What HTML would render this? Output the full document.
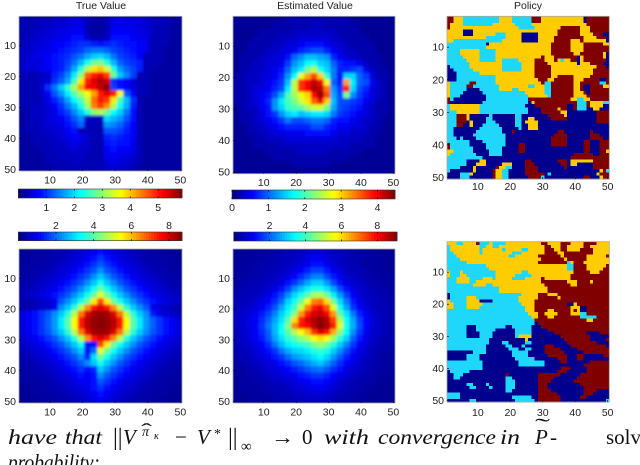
<!DOCTYPE html>
<html lang="en">
<head>
<meta charset="utf-8">
<title>Value and policy heatmaps</title>
<style>
html,body{margin:0;padding:0;background:#fff;}
body{width:640px;height:465px;overflow:hidden;}
svg{display:block;filter:blur(0.3px);}
.tick{font:10.5px "Liberation Sans",sans-serif;fill:#222;}
.ttl{font:10.5px "Liberation Sans",sans-serif;fill:#222;text-anchor:middle;}
.m{font-family:"Liberation Serif",serif;font-size:21px;fill:#111;}
.i{font-style:italic;}
</style>
</head>
<body>
<svg id="fig" xmlns="http://www.w3.org/2000/svg" width="640" height="465" viewBox="0 0 640 465">
  <defs>
    <filter id="soft" filterUnits="userSpaceOnUse" x="0" y="0" width="640" height="465"><feGaussianBlur stdDeviation="1.3"/></filter>
  </defs>
  <rect width="640" height="465" fill="#fff"/>
  <text class="ttl" x="101" y="9">True Value</text>
  <text class="ttl" x="315" y="9">Estimated Value</text>
  <text class="ttl" x="528" y="9">Policy</text>
  <g id="panels"></g>
  <g>
    <text class="m i" x="8" y="444" textLength="49" lengthAdjust="spacingAndGlyphs">have</text>
    <text class="m i" x="65" y="444" textLength="37" lengthAdjust="spacingAndGlyphs">that</text>
    <text class="m" x="113" y="445" style="font-size:24px">||</text>
    <text class="m i" x="123" y="444">V</text>
    <text class="m i" x="142" y="436" style="font-size:14px">π</text>
    <text class="m" x="141" y="436" style="font-size:18px" textLength="11" lengthAdjust="spacingAndGlyphs">ˆ</text>
    <text class="m i" x="154" y="439" style="font-size:10px">κ</text>
    <text class="m" x="175" y="444">−</text>
    <text class="m i" x="197" y="444">V</text>
    <text class="m" x="214" y="438" style="font-size:14px">*</text>
    <text class="m" x="228" y="445" style="font-size:24px">||</text>
    <text class="m" x="241" y="451" style="font-size:15px">∞</text>
    <text class="m" x="271" y="444" textLength="23" lengthAdjust="spacingAndGlyphs">→</text>
    <text class="m" x="302" y="444">0</text>
    <text class="m i" x="324" y="444" textLength="45" lengthAdjust="spacingAndGlyphs">with</text>
    <text class="m i" x="378" y="444" textLength="118" lengthAdjust="spacingAndGlyphs">convergence</text>
    <text class="m i" x="500" y="444" textLength="20" lengthAdjust="spacingAndGlyphs">in</text>
    <text class="m i" x="535" y="444">P</text>
    <text class="m" x="535" y="433" style="font-size:21px" textLength="15" lengthAdjust="spacingAndGlyphs">˜</text>
    <text class="m" x="550" y="444">-</text>
    <text class="m" x="606" y="444">solve</text>
    <text class="m i" x="8" y="469" textLength="92" lengthAdjust="spacingAndGlyphs">probability:</text>
  </g>
</svg>
<script>
const trueValueTop = [
[.3,.3,.3,.3,.3,.4,.4,.4,.5,.5,.3,.2,.2,.3,.5,.6,.5,.5,.5,.4,.3,.3,.3,.2,.2],
[.3,.3,.3,.4,.4,.5,.5,.5,.6,.6,.3,.2,.2,.3,.6,.6,.6,.6,.5,.5,.4,.3,.3,.2,.2],
[.3,.3,.4,.4,.5,.5,.6,.6,.7,.7,.3,.2,.2,.3,.7,.7,.7,.6,.6,.5,.4,.3,.3,.2,.2],
[.3,.4,.4,.5,.5,.6,.6,.7,.8,.8,.5,.3,.3,.4,.8,.8,.8,.7,.6,.6,.3,.3,.3,.2,.2],
[.3,.4,.5,.5,.6,.7,.7,.8,.9,1,1,.9,.8,.9,1,.9,.8,.8,.7,.6,.3,.3,.3,.2,.2],
[.4,.4,.5,.6,.6,.7,.8,.9,1,1.1,1.3,1.4,1.4,1.3,1.1,1,.9,.8,.7,.6,.3,.3,.2,.2,.2],
[.4,.5,.6,.6,.7,.8,.9,1,1.2,1.4,1.7,1.9,2,1.8,1.4,1.1,1,.9,.7,.3,.3,.3,.2,.2,.2],
[.4,.5,.5,.6,.7,.8,.9,1.1,1.4,1.8,2.3,2.8,2.9,2.4,1.8,1.3,1.1,1,.9,.3,.3,.3,.2,.2,.2],
[.4,.5,.5,.6,.7,.8,.9,1.2,1.7,2.4,3.2,3.8,4,3.4,2.4,1.6,1.3,1.1,.9,.3,.3,.2,.2,.2,.2],
[.3,.3,.3,.4,.4,.9,1.1,1.5,2.1,3,4.6,5,5.2,4.8,2.8,1.9,1.5,1.1,.3,.3,.2,.2,.2,.2,.2],
[.3,.3,.3,.4,.5,1,1.3,1.7,2.6,3.8,5,5.3,5.6,5.4,1,.8,.7,.5,.3,.3,.2,.2,.2,.2,.2],
[.3,.3,.3,.5,1,1.4,1.9,2.5,3.2,4.2,5.1,5.2,5.5,5.8,1.1,.8,.7,.5,.3,.3,.2,.2,.2,.2,.2],
[.3,.3,.3,.4,.7,1.2,1.6,2.1,2.7,3.2,3.6,4.2,5,5.3,5,3.6,1.2,.7,.3,.3,.2,.2,.2,.2,.2],
[.3,.3,.3,.4,.6,.9,1.2,1.7,2.2,2.7,3.3,4.5,5,4.8,3.8,2.6,1.8,1,.3,.2,.2,.2,.2,.2,.2],
[.3,.3,.4,.4,.5,.7,1,1.4,1.8,2.3,3.1,4.4,4.8,4.3,3.2,2.3,1.7,.9,.3,.2,.2,.2,.2,.2,.2],
[.2,.3,.4,.4,.5,.6,.9,1.1,1.5,1.9,2.4,3,3.2,2.8,2.2,1.9,1.4,.8,.3,.2,.2,.2,.2,.2,.2],
[.2,.3,.4,.4,.5,.6,.7,.9,1.2,1.5,.4,.4,.4,2,1.8,1.6,1.2,.8,.3,.2,.2,.2,.2,.2,.2],
[.2,.3,.3,.4,.5,.5,.6,.8,1,1.3,.4,.3,.3,1.6,1.5,1.3,1,.7,.3,.2,.2,.2,.2,.2,.2],
[.2,.3,.3,.4,.4,.5,.5,.7,.8,.3,.3,.3,.3,1.2,1.2,1.1,.9,.7,.3,.2,.2,.2,.2,.2,.2],
[.2,.2,.3,.3,.4,.4,.5,.6,.7,.6,.5,.3,.3,.9,1,.9,.8,.7,.3,.2,.2,.2,.2,.2,.2],
[.2,.2,.3,.3,.3,.4,.4,.5,.6,.5,.4,.3,.3,.8,.9,.8,.8,.6,.3,.2,.2,.2,.2,.2,.2],
[.2,.2,.2,.3,.3,.4,.4,.4,.5,.4,.4,.3,.3,.7,.8,.7,.7,.6,.3,.2,.2,.2,.2,.2,.2],
[.2,.2,.2,.2,.3,.3,.4,.4,.4,.4,.3,.3,.3,.6,.7,.6,.6,.5,.3,.2,.2,.2,.2,.2,.2],
[.2,.2,.2,.2,.3,.3,.3,.3,.4,.4,.3,.3,.3,.5,.6,.5,.5,.4,.3,.2,.2,.2,.2,.2,.2],
[.2,.2,.2,.2,.2,.3,.3,.3,.3,.3,.3,.3,.3,.4,.5,.4,.4,.3,.2,.2,.2,.2,.2,.2,.2]
];
const estimatedValueTop = [
[.1,.1,.1,.1,.1,.1,.1,.1,.2,.2,.2,.2,.2,.2,.2,.2,.2,.2,.1,.1,.1,.1,.1,.1,.1],
[.1,.1,.1,.1,.1,.1,.2,.2,.2,.2,.2,.2,.3,.3,.2,.2,.2,.2,.2,.1,.1,.1,.1,.1,.1],
[.1,.1,.1,.1,.2,.2,.2,.2,.2,.3,.3,.3,.3,.3,.3,.3,.2,.2,.2,.2,.1,.1,.1,.1,.1],
[.1,.1,.1,.2,.2,.2,.2,.3,.3,.3,.4,.4,.4,.4,.4,.3,.3,.2,.2,.2,.2,.1,.1,.1,.1],
[.1,.1,.2,.2,.2,.2,.3,.3,.4,.4,.5,.6,.6,.6,.5,.4,.3,.3,.2,.2,.2,.2,.1,.1,.1],
[.1,.1,.2,.2,.2,.3,.3,.4,.4,.5,.7,.8,.9,.9,.7,.5,.4,.3,.3,.2,.2,.2,.1,.1,.1],
[.1,.2,.2,.2,.3,.3,.4,.4,.6,1,1.2,1.4,1.4,1.3,1.2,.7,.5,.4,.3,.3,.2,.2,.2,.1,.1],
[.1,.2,.2,.3,.3,.4,.4,.5,.8,1.2,1.4,1.7,1.8,1.5,1.4,1,.7,.6,.6,.5,.3,.2,.2,.1,.1],
[.1,.2,.2,.3,.3,.4,.5,.6,1,1.4,1.6,2.2,2.5,1.8,1.5,1.1,.7,.7,.8,.9,.5,.3,.2,.2,.1],
[.2,.2,.3,.3,.4,.4,.5,.7,1.2,1.7,2.7,3.2,3.6,3,1.9,1.1,.6,1.5,1.5,1,.8,.4,.2,.2,.1],
[.2,.2,.3,.3,.4,.5,.6,.8,1.4,2.5,3.7,3.9,4.2,4,2.7,1,.7,3.2,1.6,1,.9,.5,.3,.2,.1],
[.2,.2,.3,.4,.4,.5,.7,.9,1.6,2.5,3.7,3.9,4.3,4.2,3.4,1.2,.8,3.8,1.5,.9,.7,.4,.3,.2,.1],
[.2,.2,.3,.4,.5,.6,.9,1.3,2,2.4,2.7,3,3.9,4.4,3.6,1.3,.9,2.2,1.2,.8,.6,.4,.3,.2,.1],
[.2,.2,.3,.4,.5,.7,1.2,1.6,2,2.2,2.6,2.9,3.5,3.9,3,1.4,.9,.9,.8,.7,.5,.4,.2,.2,.1],
[.1,.2,.3,.3,.5,.6,1.2,1.5,1.9,2,2.1,2.4,2.6,2.6,2.2,1.3,.9,.8,.7,.6,.4,.3,.2,.2,.1],
[.1,.2,.2,.3,.4,.6,.8,1.2,1.5,1.6,1.4,1.5,1.6,1.6,1.5,1.1,.8,.7,.6,.5,.4,.3,.2,.2,.1],
[.1,.2,.2,.3,.4,.5,.6,.8,1.1,.9,.9,1,1.1,1.1,1,.7,.6,.6,.5,.4,.3,.3,.2,.1,.1],
[.1,.1,.2,.3,.3,.4,.5,.6,.7,.7,.7,.7,.9,.9,.7,.6,.5,.5,.4,.4,.3,.2,.2,.1,.1],
[.1,.1,.2,.2,.3,.3,.4,.4,.5,.5,.5,.6,.6,.6,.6,.5,.4,.4,.3,.3,.3,.2,.2,.1,.1],
[.1,.1,.1,.2,.2,.3,.3,.3,.4,.4,.4,.4,.4,.4,.4,.4,.3,.3,.3,.3,.2,.2,.1,.1,.1],
[.1,.1,.1,.2,.2,.2,.2,.3,.3,.3,.3,.3,.3,.3,.3,.3,.3,.3,.2,.2,.2,.2,.1,.1,.1],
[.1,.1,.1,.1,.1,.2,.2,.2,.2,.2,.3,.3,.3,.3,.3,.2,.2,.2,.2,.2,.1,.1,.1,.1,.1],
[.1,.1,.1,.1,.1,.1,.2,.2,.2,.2,.2,.2,.2,.2,.2,.2,.2,.2,.1,.1,.1,.1,.1,.1,.1],
[.1,.1,.1,.1,.1,.1,.1,.1,.1,.2,.2,.2,.2,.2,.2,.1,.1,.1,.1,.1,.1,.1,.1,.1,.1],
[.1,.1,.1,.1,.1,.1,.1,.1,.1,.1,.1,.1,.1,.1,.1,.1,.1,.1,.1,.1,.1,.1,.1,.1,.1]
];
const trueValueBottom = [
[.2,.2,.3,.3,.3,.4,.4,.5,.6,.7,.8,1,1.2,1,.8,.7,.6,.5,.4,.4,.3,.3,.3,.2,.2],
[.2,.3,.3,.3,.4,.4,.5,.6,.7,.8,1,1.2,1.5,1.2,1,.8,.7,.6,.5,.4,.4,.3,.3,.3,.2],
[.3,.3,.3,.4,.4,.5,.6,.7,.8,1,1.2,1.5,1.8,1.5,1.2,1,.8,.7,.6,.5,.4,.4,.3,.3,.3],
[.3,.3,.4,.4,.5,.6,.7,.8,1,1.2,1.5,1.8,2.3,1.8,1.5,1.2,1,.8,.7,.6,.5,.4,.4,.3,.3],
[.3,.4,.4,.5,.6,.7,.8,1,1.2,1.5,1.8,2.3,2.8,2.3,1.8,1.5,1.2,1,.8,.7,.6,.5,.4,.4,.3],
[.4,.4,.5,.6,.7,.8,1,1.2,1.5,1.8,2.3,2.8,3.4,2.8,2.3,1.8,1.5,1.2,1,.8,.7,.6,.5,.4,.4],
[.4,.5,.6,.7,.8,1,1.2,1.5,1.8,2.3,2.8,3.4,4.2,3.4,2.8,2.3,1.8,1.5,1.2,1,.8,.7,.6,.5,.4],
[.5,.6,.7,.8,1,1.2,1.5,1.8,2.3,2.8,3.4,4.2,5.2,4.2,3.4,2.8,2.3,1.8,1.5,1.2,1,.8,.7,.6,.5],
[.4,.4,.5,.6,.7,.9,1.8,2.3,2.8,3.4,4.2,5.6,7,5.6,4.2,3.4,2.8,2.3,1.8,1.5,1.2,1,.8,.7,.6],
[.4,.4,.5,.6,.7,.9,2.3,2.8,3.6,4.8,6.4,7.5,7.9,7.5,6.4,4.8,3.6,2.8,2.3,1.8,.9,.7,.6,.5,.4],
[.8,1,1.2,1.5,1.8,2.3,2.8,3.6,4.8,6.6,7.9,8.4,8.5,8.4,7.9,6.6,4.8,3.6,2.8,2.3,1.3,.9,.7,.6,.5],
[.8,1,1.2,1.5,1.9,2.4,3.1,4,5.4,7.4,8.2,8.5,8.6,8.5,8.2,7.4,5.4,4,3.1,2.4,1.9,1.5,1.2,1,.8],
[.8,1,1.2,1.5,1.9,2.4,3.1,4,5.4,7.4,8.2,8.5,8.6,8.5,8.2,7.4,5.4,4,3.1,2.4,1.9,1.5,1.2,1,.8],
[.8,1,1.2,1.5,1.8,2.3,2.8,3.6,4.8,6.6,7.9,8.4,8.5,8.4,7.9,6.6,4.8,3.6,2.8,2.3,1.8,1.5,1.2,1,.8],
[.7,.8,1,1.2,1.5,1.8,2.3,2.8,3.6,4.8,6.4,7.5,7.9,7.5,6.4,4.8,3.6,2.8,2.3,1.8,1.5,1.2,1,.8,.7],
[.6,.7,.8,1,1.2,1.5,1.8,2.3,2.8,3.4,1.2,1.2,7,5.6,4.2,3.4,2.8,2.3,1.8,1.5,1.2,1,.8,.7,.6],
[.5,.6,.7,.8,1,1.2,1.5,1.8,2.3,2.8,1.2,2,5.2,4.2,3.4,2.8,2.3,1.8,1.5,1.2,1,.8,.7,.6,.5],
[.4,.5,.6,.7,.8,1,1.2,1.5,1.8,2.3,1.4,3,4.2,3.4,2.8,2.3,1.8,1.5,1.2,1,.8,.7,.6,.5,.4],
[.4,.4,.5,.6,.7,.8,1,1.2,1.5,1.8,2.3,2.8,3.4,2.8,2.3,1.8,1.5,1.2,1,.8,.7,.6,.5,.4,.4],
[.3,.4,.4,.5,.6,.7,.8,1,1.2,1.5,1.2,1.4,2.8,2.3,1.8,1.5,1.2,1,.8,.7,.6,.5,.4,.4,.3],
[.3,.3,.4,.4,.5,.6,.7,.8,1,1.2,1,1.2,2.3,1.8,1.5,1.2,1,.8,.7,.6,.5,.4,.4,.3,.3],
[.3,.3,.3,.4,.4,.5,.6,.7,.8,1,1,1.2,1.8,1.5,1.2,1,.8,.7,.6,.5,.4,.4,.3,.3,.3],
[.2,.3,.3,.3,.4,.4,.5,.6,.7,.8,.9,1.2,1.5,1.2,1,.8,.7,.6,.5,.4,.4,.3,.3,.3,.2],
[.2,.2,.3,.3,.3,.4,.4,.5,.6,.7,.8,1,1.2,1,.8,.7,.6,.5,.4,.4,.3,.3,.3,.2,.2],
[.2,.2,.2,.3,.3,.3,.4,.4,.5,.6,.7,.8,1,.8,.7,.6,.5,.4,.4,.3,.3,.3,.2,.2,.2]
];
const estimatedValueBottom = [
[.2,.2,.2,.3,.3,.3,.4,.4,.5,.5,.6,.7,.8,.8,.7,.6,.5,.5,.4,.3,.3,.3,.2,.2,.2],
[.2,.2,.3,.3,.3,.4,.4,.5,.5,.6,.7,.8,1,1,.8,.7,.6,.5,.4,.4,.3,.3,.3,.2,.2],
[.2,.3,.3,.3,.4,.4,.5,.5,.6,.7,.8,1,1.2,1.2,1,.8,.6,.5,.5,.4,.3,.3,.3,.2,.2],
[.3,.3,.3,.4,.4,.5,.5,.6,.7,.9,1.1,1.4,1.7,1.7,1.3,1,.8,.6,.5,.5,.4,.3,.3,.3,.2],
[.3,.3,.4,.4,.5,.5,.6,.7,.9,1.1,1.5,1.9,2.3,2.3,1.8,1.3,1,.7,.6,.5,.4,.4,.3,.3,.3],
[.3,.4,.4,.5,.5,.6,.7,.9,1.2,1.6,2.1,2.6,3,3,2.5,1.8,1.2,.9,.7,.6,.5,.4,.4,.3,.3],
[.4,.4,.5,.5,.6,.7,.9,1.2,1.7,2.4,2.9,3.3,3.7,3.7,3.2,2.6,1.8,1.2,.9,.7,.6,.5,.4,.4,.3],
[.4,.5,.5,.6,.7,.9,1.2,1.7,2.4,3.1,3.6,4.2,4.9,5,4.4,3.3,2.5,1.7,1.1,.8,.6,.5,.5,.4,.3],
[.5,.5,.6,.7,.9,1.1,1.5,2.1,3,3.5,4.4,5.5,6.8,7,6,4.4,3.1,2.2,1.3,.9,.7,.6,.5,.4,.4],
[.5,.6,.7,.8,1,1.4,1.9,2.6,3.3,4,5.2,6.8,7.8,8.1,7.2,5.4,3.6,2.6,1.6,1.1,.8,.6,.5,.5,.4],
[.6,.7,.8,1,1.3,1.7,2.3,3,3.6,4.6,6.6,7.8,8.3,8.5,8,6.6,4.2,3.2,2.2,1.4,1,.7,.6,.5,.4],
[.6,.7,.9,1.1,1.5,2,2.6,3.2,4.2,6,7.7,8.3,8.7,9,8.6,7.4,5,3.5,2.6,1.7,1.1,.8,.6,.5,.4],
[.6,.7,.9,1.1,1.6,2.2,2.8,3.4,4.6,6.8,7.8,8,8.6,9.1,8.7,7.8,5.4,3.6,2.7,1.8,1.1,.8,.6,.5,.4],
[.5,.7,.8,1.1,1.5,2,2.8,3.5,4.2,5,5.7,6.3,7.6,8.3,7.9,6.4,4.6,3.4,2.4,1.6,1,.7,.6,.5,.4],
[.5,.6,.8,1,1.3,1.9,2.6,3.2,3.8,4.2,4.7,5,5.6,6,5.6,4.8,3.8,3,2,1.3,.9,.7,.5,.4,.4],
[.5,.6,.7,.9,1.1,1.5,2.2,2.8,3.3,3.5,3.8,4,4.5,4.8,4.4,3.7,3,2.3,1.6,1.1,.8,.6,.5,.4,.4],
[.4,.5,.6,.8,1,1.2,1.6,2.2,2.7,3,3.1,3.3,3.7,3.9,3.6,3,2.4,1.8,1.2,.9,.7,.5,.4,.4,.3],
[.4,.5,.5,.7,.8,1,1.3,1.6,2.1,2.5,2.7,2.9,3.2,3.4,3.1,2.5,1.9,1.4,1,.8,.6,.5,.4,.3,.3],
[.3,.4,.5,.6,.7,.8,1,1.2,1.5,1.9,2.1,2.4,2.7,2.9,2.5,2,1.5,1.1,.9,.7,.5,.4,.4,.3,.3],
[.3,.3,.4,.5,.6,.7,.8,1,1.1,1.4,1.6,1.9,2.1,2.2,1.9,1.5,1.2,.9,.7,.6,.5,.4,.3,.3,.3],
[.3,.3,.4,.4,.5,.6,.7,.8,.9,1,1.2,1.4,1.6,1.6,1.4,1.1,.9,.8,.6,.5,.4,.4,.3,.3,.2],
[.2,.3,.3,.4,.4,.5,.6,.6,.7,.8,1,1.1,1.2,1.2,1.1,.9,.7,.6,.5,.4,.4,.3,.3,.2,.2],
[.2,.3,.3,.3,.4,.4,.5,.5,.6,.7,.8,.9,1,1,.9,.7,.6,.5,.4,.4,.3,.3,.2,.2,.2],
[.2,.2,.3,.3,.3,.4,.4,.5,.5,.6,.6,.7,.8,.8,.7,.6,.5,.4,.4,.3,.3,.2,.2,.2,.2],
[.2,.2,.2,.3,.3,.3,.4,.4,.4,.5,.5,.6,.6,.6,.6,.5,.4,.4,.3,.3,.3,.2,.2,.2,.2]
];
const policyTop = [
"3322211111 1111112222 1111113332 2222222222 2203333333",
"3322211111 1111112222 1111113332 2222222222 2203333333",
"3222211111 1111222222 2111112222 2222222222 2223333333",
"3222222222 2222222222 2211111222 2222233333 3222333333",
"2222200022 2222222222 2222222222 2222333333 3222333333",
"2222200022 2222211122 2220000022 2222333333 3222233300",
"2222222222 2211111122 2220000022 2223333333 3322223330",
"2211111111 1111111222 2220000022 2223333322 2322222220",
"1111111111 1102222222 2222222222 2233333322 2233333322",
"1111111111 1122222222 2222222222 2233333322 2233333333",
"1111222222 1111122222 2222222222 2233333322 2233333333",
"1111222222 1111122222 2222222222 2233333332 2333333320",
"1111122222 1111122222 2222222223 2223333333 0233333320",
"1111112222 1111122111 1122222333 2223212233 0233333330",
"1111111222 2222222111 1112222333 3222222222 0222333300",
"0111111222 2222222111 1112222333 3322222222 2222223330",
"0011111122 2222222111 1112222333 3322222222 2222233333",
"0001111111 2222222222 2222222333 3322222222 2222233333",
"0001111111 1111122222 2222222333 3322333332 2222333333",
"0001111111 1111122222 2222222233 3223333332 2233333003",
"2111111331 1111122222 2222222223 1133333332 2333333113",
"2111113311 1111112222 2222211222 1133333332 2300333322",
"2111110000 1111112222 1122222222 1133333332 2300333333",
"2111100000 0111111111 1111222222 1133333332 2230333333",
"2111000000 0011111111 1111122222 2133333332 2223333333",
"3100000000 0011111111 1111133333 3333333322 1122333333",
"3000000000 0111111111 1111102333 3333333333 1113222211",
"1222222222 1111111111 1111000333 3333333003 1113222200",
"1222222222 1111111111 1111100003 3333233003 1110022000",
"1112222222 1111111111 1111100003 3333322000 0000003333",
"1113332000 0001000000 0110000000 0333332000 0000003333",
"1113332000 0011000000 0110022000 0033333000 0000003333",
"1113330200 0011100000 0110222200 0000000000 0000003333",
"1113300200 0111110000 0110022200 0000000000 0000000000",
"1100000000 1111111000 0010022200 0000000000 0000000000",
"1100000001 1111111000 3000000000 0000330000 0000300000",
"1100000011 1111111100 0000000000 0003333000 0000333000",
"1110100001 1111111100 0000000000 0033333000 0000333300",
"1111111000 0111111100 0000000000 0033333000 0033000333",
"3111111000 0011111100 0033000000 0033333000 0033000333",
"3111111100 0011111000 0033000000 0000000000 0033000333",
"2211111100 0001111000 0033000000 0000000000 0033000332",
"2111111110 0001111000 0000000000 0000000003 3333300333",
"1111111111 1000000000 0000000000 0000000033 3333333333",
"1111110000 2200000000 0000330000 0000333022 2222233333",
"1111110002 2200000222 0000333000 0000033022 0000033333",
"1111000020 0000032211 0000333300 0000003000 0000033333",
"1000000020 0000322110 0000333300 0000000000 0000000231",
"0000111200 0000322110 0000333333 0100000000 0000002333",
"0000111000 0000322110 0000033331 0000000000 0033000233"
];
const policyBottom = [
"2221122223 1112111122 2222222223 3222233322 2233332222",
"1222222222 1122112222 2222222222 3322233222 2233222222",
"1222222222 1222222122 2221122222 3332233222 2333322222",
"1122222222 1222222222 1112222222 3333223333 3333322222",
"1112222222 2222222221 1222222233 3333323333 3332222223",
"1111222222 2222222222 2222222223 3333332333 3332222222",
"1111112222 2222222222 2222222233 3333333123 3322222222",
"1111111111 1122222222 2222222222 2222222113 3332222223",
"1111111111 1112222222 2222222222 2222222113 3332222233",
"2111211111 1111122222 2221122222 2222222223 3333222333",
"2111221111 1111122222 2111112222 2222222233 3333333333",
"1112222111 1222122222 1111222223 2222222233 3333333333",
"1112222112 2222222222 2222222223 3333333222 3333233333",
"1111111122 2211222222 2222222222 3333333322 3333333333",
"1111111111 1111112222 2222222222 2333333333 3333333333",
"1111111111 1111112222 2222222222 2333333333 3333333333",
"0111111111 1111111111 1112222233 3222333333 3333333333",
"0111112221 1111111111 1122222233 3333233333 3333333333",
"2111112222 0000111111 1122222333 3333333333 3333333333",
"2211112222 2111111111 1112222333 3333333002 3333333333",
"2211112222 1111111111 1111222333 3333333322 2003333333",
"1111111111 1111111111 1111222333 3223333323 2003333333",
"1111111111 1111111111 1111122233 2222333322 2113333333",
"1111111111 1111111111 1111112233 3223333333 3111113333",
"1111111111 1111111111 1111111333 3333333333 3332233333",
"1111111111 1111111111 1111111033 3333333333 3333333333",
"1111110001 1111111100 1111110003 3333333333 3333333333",
"1111110001 1111100000 0111110000 0333333333 3333333333",
"1111110000 1111000000 0111110000 0003333333 3330000333",
"1111110000 1111000000 0122220000 0000033333 3333000000",
"1111111111 1110000000 0000200000 0000003333 3333000003",
"1111111111 1110000110 0000110000 0000000333 3333330000",
"1111111111 1100000011 0001000000 3330000033 3333333330",
"1111111111 1100000001 1100110000 3333300000 3333333333",
"0000000011 1100000000 1111100000 3333330000 0033333333",
"0000001111 0000000000 1111100000 0333333000 3300000033",
"0000001111 0000000000 0111111000 0000333000 3300000000",
"1111111111 1000000000 0011111111 0000033000 0000333333",
"1111111111 1000000000 0011111111 0000000000 0033333333",
"1111111111 1000000000 0000000000 0000033300 0003333333",
"0111111000 0000000000 0000000000 0000333000 0003333333",
"0011100000 0000000030 0000000033 3333300000 0333333333",
"0011000000 0000000011 0000000033 3330000000 3333333333",
"0000000000 0000000011 1000000033 3300000003 3333333333",
"0000001100 0010000011 1000000033 3000000000 0333333333",
"0000000110 0001000011 1000000033 3000000000 0033333333",
"0000000000 0000000011 0000000033 3300000000 0033330000",
"1111000000 0000000000 0000000033 3333000000 0033300000",
"1111000000 0000000000 1111110033 3333300000 0330000000",
"0000000110 0000000000 0111111033 3333300000 0000000001"
];
const axisTicks = [10, 20, 30, 40, 50];
const policyColors = ["#00008f", "#1fd6fb", "#ffcc00", "#800000"];
const colorbarTop1 = [1, 2, 3, 4, 5];
const colorbarTop2 = [0, 1, 2, 3, 4];
const colorbarBottom1 = [2, 4, 6, 8];
const colorbarBottom2 = [2, 4, 6, 8];

const NS = "http://www.w3.org/2000/svg";
const root = document.getElementById("panels");

function make(parent, tag, attrs) {
  const el = document.createElementNS(NS, tag);
  for (const k in attrs) el.setAttribute(k, attrs[k]);
  parent.appendChild(el);
  return el;
}
function jet(f) {
  f = Math.max(0, Math.min(1, f));
  const ch = (c) => Math.round(255 * Math.max(0, Math.min(1, 1.5 - Math.abs(4 * f - c))));
  return "rgb(" + ch(3) + "," + ch(2) + "," + ch(1) + ")";
}
function drawTicks(group, box, prefix, gap) {
  const xScale = (v) => box.x + (v - 0.5) / 50 * box.w;
  const yScale = (v) => box.y + (v - 0.5) / 50 * box.h;
  axisTicks.forEach((t) => {
    const lx = make(group, "text", {class: "tick", x: xScale(t), y: box.y + box.h + gap, "text-anchor": "middle"});
    lx.textContent = t;
    
    
    const ly = make(group, "text", {class: "tick", x: box.x - 3, y: yScale(t) + 3.5, "text-anchor": "end"});
    ly.textContent = t;
    
    
    const mx = make(group, "line", {x1: xScale(t), x2: xScale(t), y1: box.y + box.h, y2: box.y + box.h - 2, stroke: "#000", "stroke-width": 0.6});
    
    
    const my = make(group, "line", {x1: box.x, x2: box.x + 2, y1: yScale(t), y2: yScale(t), stroke: "#000", "stroke-width": 0.6});
    
    
  });
}
function frame(group, box, prefix) {
  const f = make(group, "rect", {x: box.x, y: box.y, width: box.w, height: box.h, fill: "none", stroke: "#a8a8a0", "stroke-width": 0.8});
  
  
}
let clipCount = 0;
function drawHeat(matrix, vmax, box, prefix) {
  const group = make(root, "g", {});
  
  
  const id = "clip" + (clipCount++);
  const cp = make(group, "clipPath", {id: id});
  make(cp, "rect", {x: box.x, y: box.y, width: box.w, height: box.h});
  const holder = make(group, "g", {"clip-path": "url(#" + id + ")"});
  const base = make(holder, "rect", {x: box.x, y: box.y, width: box.w, height: box.h, fill: "#00009c"});
  
  
  const soft = make(holder, "g", {filter: "url(#soft)"});
  const rows = matrix.length;
  const cols = matrix[0].length;
  const cw = box.w / cols;
  const ch = box.h / rows;
  matrix.forEach((row, r) => {
    row.forEach((v, c) => {
      const cell = make(soft, "rect", {x: box.x + c * cw, y: box.y + r * ch, width: cw + 0.4, height: ch + 0.4, fill: jet(v / vmax)});
      
      
    });
  });
  frame(group, box, prefix);
  drawTicks(group, box, prefix, 12.5);
}
function drawPolicy(rows, box, prefix, gap) {
  const group = make(root, "g", {});
  
  
  const base = make(group, "rect", {x: box.x, y: box.y, width: box.w, height: box.h, fill: policyColors[0]});
  
  
  const cw = box.w / 50;
  const ch = box.h / rows.length;
  rows.forEach((text, r) => {
    const codes = text.replace(/ /g, "");
    for (let c = 0; c < codes.length && c < 50; c++) {
      const cell = make(group, "rect", {x: box.x + c * cw, y: box.y + r * ch, width: cw + 0.3, height: ch + 0.3, fill: policyColors[Number(codes[c])], "shape-rendering": "crispEdges"});
      
      
    }
  });
  frame(group, box, prefix);
  drawTicks(group, box, prefix, gap);
}
function drawColorbar(ticks, vmax, box, labelY, prefix) {
  const group = make(root, "g", {});
  
  
  const steps = 64;
  for (let i = 0; i < steps; i++) {
    const s = make(group, "rect", {x: box.x + i * box.w / steps, y: box.y, width: box.w / steps + 0.4, height: box.h, fill: jet((i + 0.5) / steps)});
    
    
  }
  const f = make(group, "rect", {x: box.x, y: box.y, width: box.w, height: box.h, fill: "none", stroke: "#333", "stroke-width": 0.6});
  
  
  const scale = (v) => box.x + v / vmax * box.w;
  ticks.forEach((t) => {
    const a = make(group, "line", {x1: scale(t), x2: scale(t), y1: box.y, y2: box.y + 1.6, stroke: "#000", "stroke-width": 0.7});
    
    
    const b = make(group, "line", {x1: scale(t), x2: scale(t), y1: box.y + box.h - 1.6, y2: box.y + box.h, stroke: "#000", "stroke-width": 0.7});
    
    
    const l = make(group, "text", {class: "tick", x: scale(t), y: labelY, "text-anchor": "middle"});
    l.textContent = t;
    
    
  });
}

drawHeat(trueValueTop, 5.85, {x: 19, y: 16.3, w: 163, h: 154.7}, "true-value-top");
drawHeat(estimatedValueTop, 4.48, {x: 233, y: 16.3, w: 162, h: 157.4}, "estimated-value-top");
drawPolicy(policyTop, {x: 447, y: 16.3, w: 162.3, h: 162.7}, "policy-top", 11);
drawHeat(trueValueBottom, 8.69, {x: 19, y: 249, w: 163, h: 154}, "true-value-bottom");
drawHeat(estimatedValueBottom, 9.1, {x: 233, y: 249, w: 162, h: 154}, "estimated-value-bottom");
drawPolicy(policyBottom, {x: 447, y: 241.7, w: 162.3, h: 160.3}, "policy-bottom", 14);
drawColorbar(colorbarTop1, 5.85, {x: 18.3, y: 189, w: 163.7, h: 9}, 211, "colorbar-true-top");
drawColorbar(colorbarTop2, 4.48, {x: 232, y: 190, w: 163, h: 9}, 211, "colorbar-estimated-top");
drawColorbar(colorbarBottom1, 8.69, {x: 18.3, y: 232, w: 163.7, h: 8.7}, 229, "colorbar-true-bottom");
drawColorbar(colorbarBottom2, 9.1, {x: 233.7, y: 232, w: 163.3, h: 9}, 229, "colorbar-estimated-bottom");
</script>
</body>
</html>
